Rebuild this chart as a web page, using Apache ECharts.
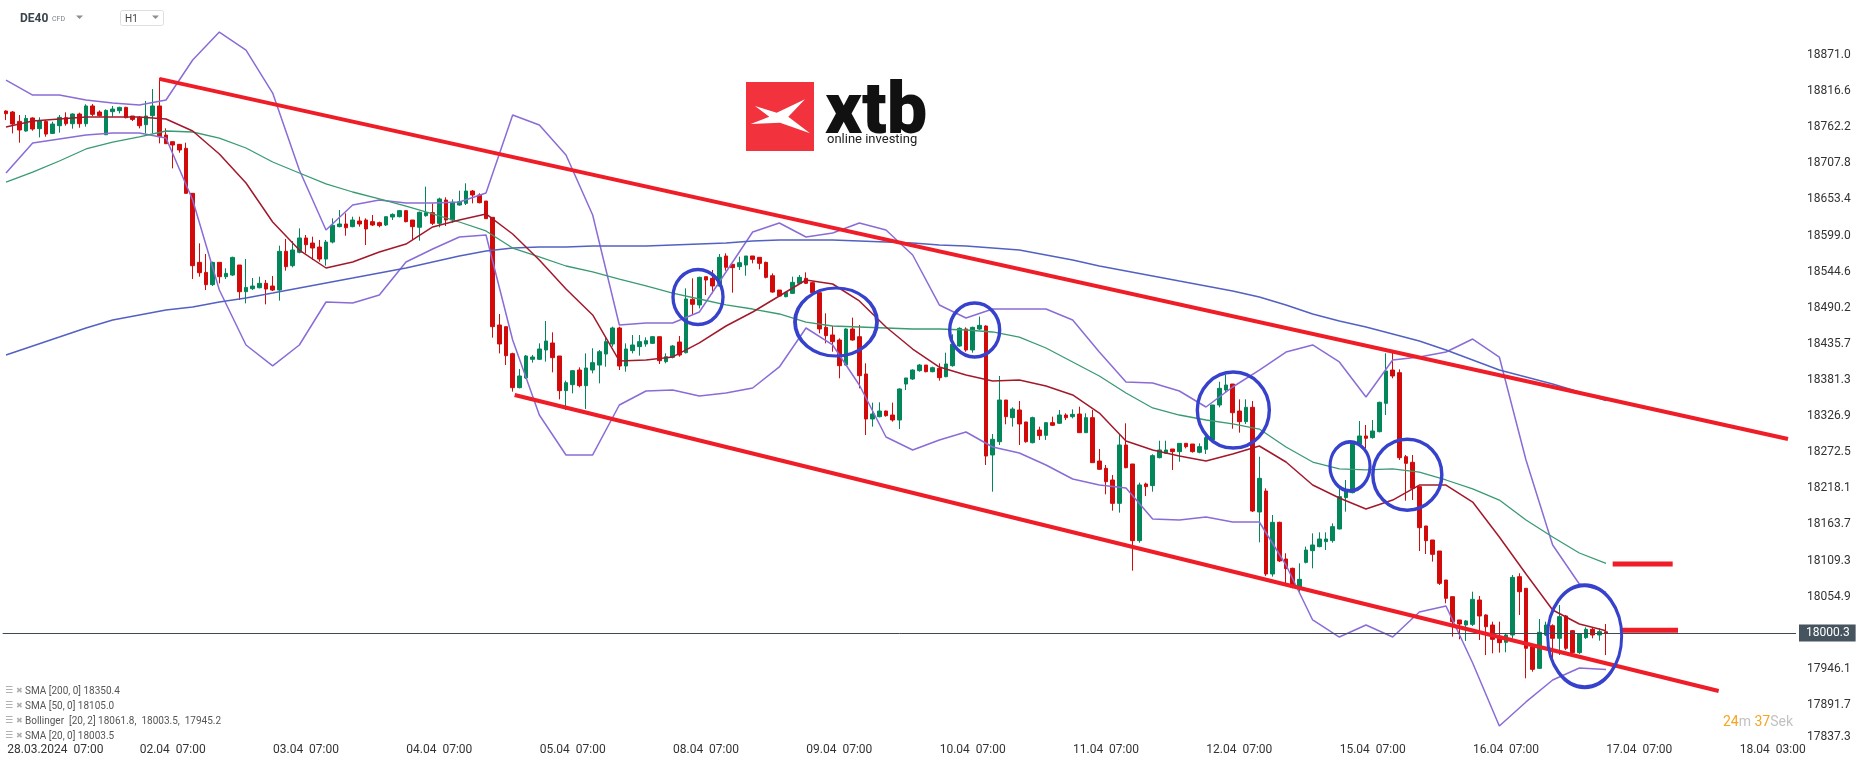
<!DOCTYPE html>
<html><head><meta charset="utf-8">
<script src="https://cdn.jsdelivr.net/npm/echarts/dist/echarts.min.js"></script>
<style>html,body{margin:0;padding:0;background:#fff;}#chart{width:1866px;height:767px;}</style>
</head><body><div id="chart"></div>
<script>
// ---------------- DATA ----------------
const tradingDays = ['28.03.2024','02.04','03.04','04.04','05.04','08.04','09.04','10.04','11.04','12.04','15.04','16.04'];
const firstSessionHour = 2, lastSessionHour = 21;
const futureDays = [['17.04', 2, 23], ['18.04', 0, 6]];
const xTickLabels = ['28.03.2024  07:00','02.04  07:00','03.04  07:00','04.04  07:00','05.04  07:00','08.04  07:00','09.04  07:00','10.04  07:00','11.04  07:00','12.04  07:00','15.04  07:00','16.04  07:00','17.04  07:00','18.04  03:00'];
const yTickLabels = ['17837.3','17891.7','17946.1','18000.5','18054.9','18109.3','18163.7','18218.1','18272.5','18326.9','18381.3','18435.7','18490.2','18544.6','18599.0','18653.4','18707.8','18762.2','18816.6','18871.0'];
const lastPrice = 18000.3;

// hourly candles [open, high, low, close]
const ohlc = [
[18786.6,18787.6,18773.0,18782.6],[18785.1,18786.6,18752.9,18767.0],[18771.0,18780.6,18738.9,18758.0],[18756.5,18780.6,18755.5,18775.5],[18776.1,18777.1,18757.0,18759.5],
[18760.0,18777.1,18746.9,18772.0],[18771.0,18773.0,18747.9,18751.9],[18752.9,18770.5,18751.9,18767.0],[18764.5,18780.6,18754.0,18777.1],[18776.6,18784.6,18764.5,18767.5],
[18767.5,18783.1,18760.0,18782.1],[18782.1,18784.1,18761.5,18767.5],[18767.5,18796.7,18763.0,18794.2],[18794.2,18797.1,18779.1,18781.6],[18785.1,18787.6,18778.1,18779.6],
[18750.9,18789.1,18750.4,18787.6],[18785.6,18794.2,18778.1,18789.6],[18787.1,18793.1,18783.1,18792.1],[18792.1,18793.1,18775.6,18776.6],[18779.1,18779.1,18771.5,18774.0],
[18777.1,18779.1,18760.5,18764.5],[18766.0,18801.7,18752.9,18779.1],[18779.6,18819.7,18752.9,18794.2],[18794.2,18836.3,18737.9,18747.9],[18750.4,18760.5,18737.4,18737.4],
[18740.4,18740.4,18700.2,18735.4],[18736.4,18736.4,18723.8,18727.9],[18730.4,18738.9,18662.6,18662.6],[18662.6,18662.6,18533.5,18553.6],[18558.6,18587.2,18537.0,18543.0],
[18543.5,18571.2,18516.9,18525.0],[18525.0,18559.6,18523.0,18558.6],[18558.6,18558.6,18527.0,18537.0],[18537.0,18549.6,18533.5,18542.0],[18539.5,18567.1,18538.0,18566.1],
[18554.6,18554.6,18501.9,18514.4],[18514.4,18563.6,18496.8,18520.9],[18518.9,18535.0,18516.9,18522.9],[18520.4,18537.0,18519.4,18527.0],[18527.0,18532.0,18495.3,18518.4],
[18522.9,18538.0,18515.4,18516.9],[18516.9,18583.7,18500.9,18575.2],[18575.2,18593.8,18546.1,18552.1],[18553.6,18590.7,18551.1,18577.2],[18573.7,18609.8,18572.2,18595.3],
[18595.3,18599.8,18572.2,18585.2],[18587.7,18597.3,18562.1,18580.2],[18581.7,18592.3,18559.6,18563.6],[18563.6,18592.3,18553.6,18589.2],[18589.2,18624.9,18587.2,18614.4],
[18612.4,18637.5,18611.4,18616.4],[18616.4,18632.4,18598.8,18610.8],[18612.4,18627.4,18611.4,18622.4],[18620.9,18627.4,18612.4,18616.4],[18622.4,18624.9,18584.7,18608.9],
[18619.9,18629.9,18613.4,18614.9],[18618.4,18619.9,18611.4,18613.9],[18614.9,18627.4,18613.4,18627.4],[18626.9,18632.4,18622.4,18630.9],[18627.4,18637.5,18626.4,18636.5],
[18636.5,18637.5,18618.9,18619.9],[18622.4,18622.4,18592.3,18612.4],[18611.4,18635.0,18591.3,18634.0],[18628.9,18672.6,18627.4,18633.5],[18633.5,18647.5,18614.9,18617.4],
[18617.4,18656.1,18611.4,18654.1],[18652.5,18656.6,18613.4,18622.4],[18622.4,18653.5,18618.4,18649.0],[18645.0,18666.6,18644.0,18650.0],[18647.5,18677.7,18645.0,18666.1],
[18666.1,18667.6,18647.5,18660.1],[18660.1,18662.6,18647.5,18648.5],[18651.0,18651.0,18624.4,18624.4],[18626.4,18626.4,18445.1,18461.7],[18464.2,18480.8,18421.5,18435.6],
[18461.7,18461.7,18403.9,18418.0],[18421.0,18422.5,18363.8,18369.8],[18369.8,18397.9,18368.8,18387.4],[18384.4,18419.0,18382.9,18417.5],[18412.5,18419.0,18407.5,18416.0],
[18412.5,18436.6,18411.5,18428.1],[18426.6,18470.2,18409.0,18440.1],[18437.1,18453.2,18392.9,18415.0],[18417.5,18417.5,18352.2,18365.3],[18365.3,18380.4,18336.2,18377.3],
[18374.3,18396.4,18361.3,18395.4],[18396.4,18400.4,18370.3,18372.8],[18372.8,18421.5,18337.6,18399.4],[18396.4,18429.1,18391.4,18407.5],[18403.9,18426.6,18376.3,18424.0],
[18420.5,18446.6,18401.4,18439.1],[18435.6,18461.7,18431.6,18459.7],[18459.7,18461.7,18396.4,18402.4],[18402.4,18436.6,18393.9,18428.1],[18425.6,18449.1,18421.5,18434.1],
[18431.6,18449.1,18418.0,18439.1],[18435.6,18445.6,18431.6,18440.6],[18436.6,18447.6,18435.6,18446.6],[18446.6,18446.6,18405.5,18410.5],[18409.0,18421.5,18406.5,18416.5],
[18415.5,18434.1,18414.0,18432.6],[18438.6,18447.6,18416.5,18419.0],[18422.5,18519.4,18421.5,18503.4],[18502.9,18534.5,18479.3,18495.4],[18494.4,18537.0,18489.3,18536.0],
[18537.0,18537.0,18509.4,18532.0],[18534.5,18547.1,18511.9,18523.0],[18523.0,18571.2,18522.0,18566.2],[18568.2,18572.2,18546.1,18551.1],[18555.6,18555.6,18512.9,18550.6],
[18552.1,18567.2,18547.1,18558.1],[18554.6,18568.2,18538.5,18568.2],[18568.2,18568.2,18557.1,18563.1],[18566.2,18566.2,18548.1,18557.1],[18558.6,18559.6,18534.5,18536.0],
[18538.5,18542.0,18512.9,18513.9],[18516.9,18516.9,18506.9,18507.9],[18506.9,18514.4,18505.9,18513.4],[18511.9,18537.0,18510.9,18528.5],[18527.0,18539.5,18526.0,18536.0],
[18534.5,18543.6,18526.0,18527.0],[18528.0,18529.5,18511.9,18512.9],[18512.9,18512.9,18451.7,18458.2],[18460.7,18481.8,18436.6,18448.2],[18449.2,18462.7,18424.0,18439.1],
[18441.6,18444.1,18383.9,18402.9],[18403.9,18459.2,18402.9,18458.2],[18458.2,18475.3,18440.6,18441.6],[18446.6,18464.2,18368.8,18387.9],[18390.4,18406.5,18298.5,18322.6],
[18322.6,18347.2,18311.0,18330.1],[18326.1,18347.7,18325.1,18334.6],[18334.6,18335.1,18326.1,18327.6],[18328.6,18347.2,18318.6,18321.1],[18321.1,18368.8,18307.5,18367.8],
[18375.3,18384.4,18366.3,18384.4],[18382.9,18397.4,18381.4,18396.4],[18395.4,18405.5,18393.9,18403.9],[18403.9,18403.9,18392.9,18393.9],[18393.9,18401.4,18392.9,18399.9],
[18398.9,18406.5,18380.4,18384.9],[18386.4,18422.5,18385.4,18405.5],[18402.9,18450.2,18401.4,18435.1],[18432.6,18460.7,18431.6,18459.2],[18458.2,18460.7,18424.0,18426.6],
[18426.6,18461.7,18422.5,18460.7],[18458.2,18476.8,18456.7,18463.7],[18462.7,18463.7,18253.3,18266.8],[18268.4,18300.0,18213.1,18292.0],[18288.4,18387.4,18283.4,18351.2],
[18351.2,18351.2,18314.6,18326.1],[18324.6,18340.2,18311.0,18337.6],[18336.2,18349.7,18283.4,18315.1],[18318.1,18318.1,18286.9,18288.4],[18286.9,18326.1,18285.9,18324.6],
[18306.0,18311.0,18291.0,18297.5],[18298.0,18317.1,18291.0,18317.1],[18317.1,18326.1,18312.0,18313.1],[18316.1,18336.2,18315.1,18328.6],[18328.6,18331.1,18321.1,18324.6],
[18326.1,18337.1,18323.6,18329.6],[18330.1,18341.2,18302.0,18302.0],[18302.0,18331.1,18302.0,18324.6],[18324.6,18336.2,18256.8,18256.8],[18259.3,18277.4,18245.8,18246.8],
[18248.3,18253.3,18209.1,18228.2],[18230.7,18238.2,18184.5,18195.5],[18195.5,18300.0,18181.5,18283.4],[18283.4,18316.1,18248.3,18249.3],[18254.8,18254.8,18094.1,18139.3],
[18139.3,18226.7,18136.3,18223.2],[18224.7,18226.7,18206.6,18220.7],[18222.2,18269.4,18213.1,18267.4],[18264.3,18289.9,18263.3,18275.9],[18270.9,18289.9,18269.9,18275.9],
[18277.4,18277.4,18245.8,18273.4],[18273.4,18285.9,18258.3,18285.9],[18285.9,18285.9,18278.4,18280.9],[18284.9,18284.9,18271.9,18273.4],[18272.4,18285.9,18270.9,18280.9],
[18276.9,18298.5,18269.9,18294.5],[18290.9,18343.7,18289.9,18343.7],[18343.7,18378.8,18340.2,18368.8],[18366.3,18388.9,18362.3,18373.8],[18375.3,18375.3,18308.0,18332.1],
[18334.6,18352.2,18302.0,18318.6],[18318.6,18352.2,18315.1,18340.2],[18340.2,18349.7,18182.5,18184.0],[18182.5,18265.8,18136.8,18233.2],[18214.1,18218.1,18086.1,18089.1],
[18089.1,18178.0,18085.1,18166.9],[18166.9,18167.9,18107.2,18108.7],[18111.7,18120.2,18072.5,18097.1],[18097.6,18098.6,18067.5,18069.0],[18069.0,18105.1,18062.5,18081.0],
[18106.6,18130.3,18105.1,18125.2],[18124.2,18150.3,18097.6,18132.8],[18130.3,18151.8,18129.3,18141.8],[18137.8,18151.8,18125.2,18141.8],[18139.3,18165.4,18136.3,18160.4],
[18156.9,18218.1,18156.4,18205.6],[18204.1,18230.7,18183.0,18214.6],[18211.6,18288.4,18210.6,18285.9],[18284.9,18319.6,18283.4,18297.0],[18297.0,18313.6,18278.4,18293.5],
[18294.5,18321.1,18293.0,18304.5],[18303.5,18348.7,18302.5,18347.7],[18346.2,18421.5,18328.6,18394.9],[18396.4,18424.0,18383.9,18387.4],[18392.4,18397.4,18260.8,18264.3],
[18265.8,18268.4,18199.5,18255.8],[18257.3,18268.4,18200.5,18218.1],[18220.7,18220.7,18123.7,18158.9],[18161.4,18161.4,18119.2,18139.3],[18140.3,18140.3,18107.7,18118.7],
[18123.7,18123.7,18072.5,18075.0],[18080.0,18080.0,18044.9,18052.4],[18054.9,18054.9,17994.7,18017.2],[18019.8,18019.8,17990.7,18013.7],[18012.2,18019.8,17988.1,18018.3],
[18013.2,18062.4,18010.7,18050.9],[18049.9,18055.9,17989.6,18025.8],[18027.3,18028.3,17967.0,18009.7],[18012.2,18017.2,17969.6,17990.6],[17994.7,18017.2,17970.6,17985.6],
[17986.1,17999.7,17971.1,17997.2],[17997.2,18087.6,17992.1,18084.0],[18085.0,18090.1,18027.3,18062.4],[18067.5,18067.5,17931.9,17977.1],[17979.6,17979.6,17941.9,17945.4],
[17946.9,18021.3,17945.9,18001.2],[17997.2,18017.2,17995.7,18012.2],[18011.2,18013.2,17962.0,17992.2],[17992.2,18042.4,17967.0,18024.8],[18025.8,18027.3,17974.6,17977.1],
[18003.7,18004.7,17969.6,17970.6],[17970.6,17999.7,17968.6,17998.7],[17993.2,18008.7,17991.2,18005.7],[18005.7,18008.7,17992.2,17997.2],[17997.2,18007.2,17988.6,18002.2],
[18002.0,18013.7,17967.0,18000.3]
];

// indicator lines, one value every 4 candles (candle 0, 4, 8, ... 240)
const lineStep = 4;
const sma200 = [18419.0,18432.6,18446.1,18459.7,18471.8,18479.3,18486.8,18491.3,18498.9,18504.9,18512.4,18520.0,18527.5,18535.0,18542.6,18550.1,18559.2,18568.2,18575.7,18580.2,18581.7,18581.7,18583.2,18583.2,18583.2,18584.7,18586.2,18587.8,18590.8,18592.3,18592.3,18592.3,18590.8,18589.3,18587.8,18584.7,18583.2,18580.2,18577.2,18569.7,18562.1,18553.1,18545.6,18538.1,18530.5,18523.0,18515.4,18506.4,18494.4,18480.8,18470.3,18461.2,18450.7,18440.1,18426.6,18411.6,18396.4,18385.9,18375.3,18363.3,18350.4];
const sma50 = [18679.6,18694.7,18711.3,18729.4,18739.9,18747.5,18756.5,18755.0,18745.9,18730.9,18709.8,18693.2,18676.7,18664.6,18654.1,18643.5,18631.5,18619.4,18605.9,18580.2,18566.7,18553.1,18544.1,18533.5,18523.0,18512.4,18503.4,18494.4,18488.3,18480.8,18468.7,18462.7,18461.2,18459.7,18458.2,18458.2,18456.7,18453.7,18446.1,18429.6,18408.5,18387.4,18361.8,18339.2,18328.6,18321.1,18315.1,18307.5,18280.4,18257.8,18247.3,18245.8,18247.3,18242.7,18230.7,18217.2,18200.5,18170.4,18144.8,18120.7,18105.0];
const sma20 = [18762.5,18771.6,18774.6,18777.6,18777.6,18777.6,18774.6,18756.5,18721.8,18678.1,18619.4,18577.2,18550.1,18559.2,18574.2,18586.2,18611.9,18622.4,18631.5,18601.3,18562.1,18518.5,18479.3,18410.0,18411.6,18416.1,18437.2,18462.7,18483.8,18507.9,18532.0,18526.0,18500.4,18461.2,18428.0,18400.9,18388.9,18379.8,18381.4,18372.3,18358.8,18331.6,18289.5,18275.9,18266.9,18259.3,18269.9,18281.9,18257.8,18223.1,18203.6,18187.0,18200.5,18223.1,18223.1,18197.5,18144.8,18089.1,18034.8,18013.7,18003.5];
const bbUpper = [18833.3,18810.7,18810.7,18803.2,18798.7,18795.6,18803.2,18863.5,18905.6,18878.5,18813.7,18697.7,18607.3,18645.0,18652.5,18648.0,18648.0,18649.5,18663.1,18780.6,18765.5,18720.3,18629.9,18464.2,18467.2,18467.2,18483.8,18544.1,18604.3,18617.9,18596.8,18602.8,18617.9,18607.3,18569.7,18494.4,18474.8,18488.3,18488.3,18488.3,18471.8,18423.5,18378.3,18376.8,18364.8,18340.7,18370.8,18396.4,18423.5,18434.1,18408.5,18355.7,18411.5,18416.0,18423.5,18443.1,18416.0,18260.8,18132.8,18074.0,18061.8];
const bbLower = [18693.2,18738.4,18744.4,18750.5,18753.5,18753.5,18745.9,18652.5,18517.0,18434.1,18402.5,18434.1,18498.9,18497.4,18509.4,18559.1,18578.7,18596.8,18599.8,18441.6,18328.6,18268.4,18268.4,18343.7,18364.8,18366.3,18357.2,18361.8,18369.3,18401.0,18459.7,18434.1,18373.8,18295.5,18275.9,18291.0,18303.0,18280.4,18271.4,18253.3,18232.2,18223.1,18218.6,18171.9,18170.4,18174.9,18167.4,18167.4,18102.6,18019.8,17994.1,18012.2,17994.1,18031.8,18040.9,17955.0,17860.0,17896.3,17929.4,17947.5,17945.2];

// drawn annotations: [candle index, price]
const channelUpper = [[23, 18835.0], [267.3, 18292.5]];
const channelLower = [[76.3, 18358.8], [256.9, 17912.8]];
const levelSma50 = [[241, 18104.0], [250, 18104.0]];
const levelSma20 = [[242.4, 18004.5], [250.8, 18004.5]];
const circleMarks = [[103.8, 18506.4], [124.5, 18468.7], [145.3, 18456.7], [184.1, 18336.1], [201.6, 18251.3], [210.2, 18238.7], [236.8, 17995.3]];

const legendTexts = ['SMA [200, 0] 18350.4', 'SMA [50, 0] 18105.0', 'Bollinger  [20, 2] 18061.8,  18003.5,  17945.2', 'SMA [20, 0] 18003.5'];

// ---------------- BUILD ----------------
const pad2 = h => (h < 10 ? '0' : '') + h + ':00';
const categories = [];
tradingDays.forEach(d => { for (let h = firstSessionHour; h <= lastSessionHour; h++) categories.push(d + '  ' + pad2(h)); });
futureDays.forEach(([d, h0, h1]) => { for (let h = h0; h <= h1; h++) categories.push(d + '  ' + pad2(h)); });

const Y_MIN = parseFloat(yTickLabels[0]);
const Y_STEP = (parseFloat(yTickLabels[yTickLabels.length - 1]) - Y_MIN) / (yTickLabels.length - 1);

const GREEN = '#03875a', RED = '#d30a0a';
const FONT = 'Roboto';
const circleSizes = [[50, 55], [82, 68], [50, 54], [72, 76], [40, 49], [69, 71], [74, 102]];
const ellipsePath = 'path://M0,50 C0,22.4 22.4,0 50,0 C77.6,0 100,22.4 100,50 C100,77.6 77.6,100 50,100 C22.4,100 0,77.6 0,50 Z';

function lineSeries(vals, color, width, z) {
  return { type: 'line', xAxisIndex: 1, yAxisIndex: 0, data: vals.map((v, k) => [k * lineStep, v]),
    symbol: 'none', showSymbol: false, silent: true, z: z || 3,
    lineStyle: { color: color, width: width } };
}
function segSeries(pts, color, width) {
  return { type: 'line', xAxisIndex: 1, yAxisIndex: 0, data: pts, symbol: 'none', showSymbol: false, silent: true, z: 5,
    lineStyle: { color: color, width: width, cap: 'butt', opacity: 1 } };
}

const graphics = [
  { type: 'text', x: 20, y: 19, style: { text: 'DE40', font: 'bold 12px Roboto', fill: '#3a444d', verticalAlign: 'middle' } },
  { type: 'text', x: 52, y: 19.5, style: { text: 'CFD', font: '7px Roboto', fill: '#7b8086', verticalAlign: 'middle' } },
  { type: 'polygon', shape: { points: [[76, 15.5], [83, 15.5], [79.5, 19]] }, style: { fill: '#8a8f94' } },
  { type: 'rect', shape: { x: 120.5, y: 10.5, width: 43, height: 15, r: 2 }, style: { fill: '#fff', stroke: '#dcdfe2', lineWidth: 1 } },
  { type: 'text', x: 125, y: 19, style: { text: 'H1', font: '10px Roboto', fill: '#444', verticalAlign: 'middle' } },
  { type: 'polygon', shape: { points: [[152, 15.5], [159, 15.5], [155.5, 19]] }, style: { fill: '#8a8f94' } },
  { type: 'group', x: 746, y: 82, children: [
    { type: 'rect', shape: { x: 0, y: 0, width: 68, height: 69 }, style: { fill: '#f2323d' } },
    { type: 'polygon', shape: { points: [[9, 24], [30.7, 30.7], [59, 17.3], [42.3, 34.7], [64, 51.3], [34, 40.7], [4.7, 42], [23.3, 34.7]] }, style: { fill: '#fff' } },
    { type: 'text', x: 79, y: 33, style: { text: 'xtb', font: '900 72px Roboto', fill: '#111', verticalAlign: 'middle' } },
    { type: 'text', x: 81, y: 58, style: { text: 'online investing', font: '13px Roboto', fill: '#222', verticalAlign: 'middle' } }
  ] },
  { type: 'text', x: 1723, y: 722, style: { text: '{o|24}{g|m }{o|37}{g|Sek}', verticalAlign: 'middle',
    rich: { o: { fill: '#f5a524', fontSize: 14, fontFamily: FONT }, g: { fill: '#c2c2c2', fontSize: 14, fontFamily: FONT } } } }
];
legendTexts.forEach((t, i) => {
  const y = 691 + i * 15;
  graphics.push({ type: 'text', x: 5, y: y, style: { text: '\u2630', font: '9px "DejaVu Sans"', fill: '#9a9a9a', verticalAlign: 'middle' } });
  graphics.push({ type: 'text', x: 16, y: y, style: { text: '\u2716', font: '8px "DejaVu Sans"', fill: '#b0b0b0', verticalAlign: 'middle' } });
  graphics.push({ type: 'text', x: 25, y: y, style: { text: t, font: '10px Roboto', fill: '#555', verticalAlign: 'middle' } });
});

const chart = echarts.init(document.getElementById('chart'), null, { renderer: 'canvas' });
chart.setOption({
  animation: false,
  backgroundColor: '#ffffff',
  grid: { left: 2.67, right: 70, top: 18.9, bottom: 25.9, containLabel: false, outerBoundsMode: 'none' },
  xAxis: [
    { type: 'category', data: categories, boundaryGap: true,
      axisLine: { show: false }, axisTick: { show: false }, splitLine: { show: false },
      axisLabel: { interval: (i, v) => xTickLabels.indexOf(v) >= 0, hideOverlap: false,
        formatter: v => v === xTickLabels[0] ? '{f|' + v + '}' : v,
        rich: { f: { padding: [0, 0, 0, 32], fontSize: 12, fontFamily: FONT, color: '#333' } },
        color: '#333', fontSize: 12, fontFamily: FONT, margin: 3 } },
    { type: 'value', min: -0.5, max: categories.length - 0.5, show: false }
  ],
  yAxis: [{ type: 'value', position: 'right', min: Y_MIN, max: Y_MIN + 20 * Y_STEP, interval: Y_STEP,
    axisLine: { show: false }, axisTick: { show: false }, splitLine: { show: false },
    axisLabel: { color: '#333', fontSize: 12, fontFamily: FONT, margin: 11, showMaxLabel: false,
      rich: { lo: { padding: [0, 0, 8, 0], color: '#333', fontSize: 12, fontFamily: FONT } },
      formatter: v => {
        const i = Math.round((v - Y_MIN) / Y_STEP);
        if (i < 0 || i >= yTickLabels.length) return '';
        if (Math.abs(parseFloat(yTickLabels[i]) - lastPrice) < Y_STEP / 2) return '';
        return i === 0 ? '{lo|' + yTickLabels[i] + '}' : yTickLabels[i];
      } } }],
  graphic: graphics,
  series: [
    { type: 'candlestick', xAxisIndex: 0, yAxisIndex: 0, barWidth: 4, z: 2, silent: true,
      data: ohlc.map(r => [r[0], r[3], r[2], r[1]]),
      itemStyle: { color: GREEN, color0: RED, borderColor: GREEN, borderColor0: RED, borderWidth: 1 },
      markLine: { silent: true, animation: false, symbol: ['none', 'path://M0,0 L10,0 L5,10 Z'], symbolSize: [1, [17, 6]],
        data: [{ yAxis: lastPrice }],
        lineStyle: { color: '#3b4a53', width: 1, type: 'solid' },
        label: { position: 'end', distance: 3, formatter: () => lastPrice.toFixed(1), color: '#fff', backgroundColor: '#45545e',
          padding: [3, 6, 2, 7], fontSize: 12, fontFamily: FONT } } },
    lineSeries(bbUpper, '#8a6cd6', 1.5),
    lineSeries(bbLower, '#8a6cd6', 1.5),
    lineSeries(sma200, '#5361c2', 1.5),
    lineSeries(sma50, '#3a9a72', 1.3),
    lineSeries(sma20, '#a3192b', 1.5),
    segSeries(channelUpper, '#ef1d27', 4),
    segSeries(channelLower, '#ef1d27', 4),
    segSeries(levelSma50, '#ef1d27', 5),
    segSeries(levelSma20, '#ef1d27', 5),
    { type: 'scatter', xAxisIndex: 1, yAxisIndex: 0, silent: true, z: 6, symbol: ellipsePath,
      data: circleMarks.map((p, i) => ({ value: p, symbolSize: circleSizes[i] })),
      itemStyle: { color: 'rgba(0,0,0,0)', borderColor: '#3742cc', borderWidth: 3.5, opacity: 1 } }
  ]
});
</script></body></html>
